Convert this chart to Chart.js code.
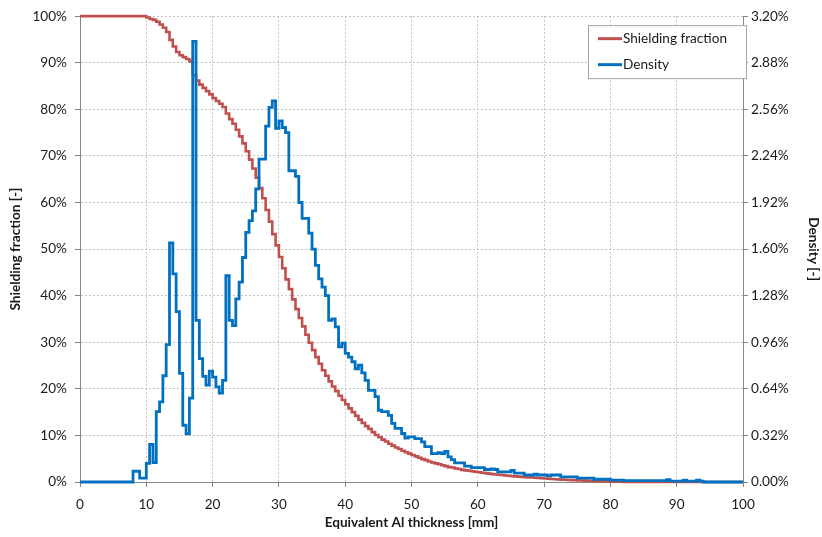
<!DOCTYPE html>
<html>
<head>
<meta charset="utf-8">
<script src="https://cdn.jsdelivr.net/npm/chart.js@4.4.0/dist/chart.umd.min.js"></script>
<style>
  html, body { margin: 0; padding: 0; background: #fff; }
  #wrap { width: 822px; height: 537px; position: relative; }
</style>
</head>
<body>
<div id="wrap"><canvas id="shieldChart"></canvas></div>
<script>
// ---------------- data : 0.5 mm bins, 0 -> 100 mm ----------------

var binStart = 0;
var binWidth = 0.5;

var xTicks = [0, 10, 20, 30, 40, 50, 60, 70, 80, 90, 100];

// shielding fraction [%] per bin (one row = 5 mm)
var shielding = [
	100, 100, 100, 100, 100, 100, 100, 100, 100, 100,
	100, 100, 100, 100, 100, 100, 100, 100, 100, 100,
	99.7, 99.4, 99.2, 98.8, 98.2, 97.5, 96.6, 94.9, 93.5, 92.3,
	91.6, 91.2, 90.8, 90.3, 87.3, 86.2, 85.3, 84.6, 83.9, 83.2,
	82.4, 81.8, 81.2, 80.5, 79.1, 77.9, 76.9, 75.6, 74.2, 72.7,
	71.0, 69.2, 67.3, 65.3, 63.1, 60.9, 58.4, 55.9, 53.2, 50.8,
	48.3, 45.9, 43.5, 41.4, 39.2, 37.1, 35.2, 33.4, 31.6, 29.9,
	28.3, 26.8, 25.4, 24.0, 22.8, 21.6, 20.5, 19.5, 18.5, 17.6,
	16.7, 15.8, 15.0, 14.2, 13.4, 12.7, 12.0, 11.4, 10.7, 10.1,
	9.6, 9.1, 8.7, 8.2, 7.8, 7.4, 7.1, 6.7, 6.4, 6.1,
	5.8, 5.5, 5.2, 4.9, 4.7, 4.4, 4.2, 4.0, 3.8, 3.6,
	3.4, 3.2, 3.1, 2.9, 2.8, 2.6, 2.5, 2.4, 2.3, 2.2,
	2.1, 2.0, 1.9, 1.8, 1.7, 1.6, 1.55, 1.5, 1.4, 1.35,
	1.25, 1.2, 1.15, 1.1, 1.05, 1.0, 0.95, 0.9, 0.85, 0.8,
	0.75, 0.7, 0.65, 0.6, 0.55, 0.5, 0.47, 0.44, 0.41, 0.38,
	0.35, 0.32, 0.29, 0.26, 0.23, 0.2, 0.18, 0.16, 0.14, 0.12,
	0.1, 0.08, 0.06, 0.04, 0.02, 0, 0, 0, 0, 0,
	0, 0, 0, 0, 0, 0, 0, 0, 0, 0,
	0, 0, 0, 0, 0, 0, 0, 0, 0, 0,
	0, 0, 0, 0, 0, 0, 0, 0, 0, 0
];

// density [%] per bin (one row = 5 mm)
var density = [
	0, 0, 0, 0, 0, 0, 0, 0, 0, 0,
	0, 0, 0, 0, 0, 0, 0.074, 0.074, 0.026, 0.026,
	0.128, 0.259, 0.134, 0.483, 0.550, 0.730, 0.944, 1.642, 1.430, 1.171,
	0.746, 0.390, 0.330, 0.576, 3.027, 1.110, 0.848, 0.726, 0.666, 0.762,
	0.720, 0.653, 0.611, 0.698, 1.418, 1.110, 1.075, 1.258, 1.373, 1.542,
	1.715, 1.795, 1.862, 2.013, 2.218, 2.218, 2.445, 2.573, 2.618, 2.429,
	2.480, 2.435, 2.400, 2.138, 2.138, 2.099, 1.920, 1.811, 1.811, 1.709,
	1.600, 1.488, 1.395, 1.338, 1.280, 1.110, 1.120, 1.066, 0.928, 0.954,
	0.883, 0.858, 0.826, 0.778, 0.803, 0.749, 0.698, 0.630, 0.630, 0.586,
	0.493, 0.483, 0.483, 0.458, 0.403, 0.368, 0.368, 0.333, 0.301, 0.310,
	0.310, 0.298, 0.298, 0.275, 0.243, 0.243, 0.195, 0.195, 0.202, 0.195,
	0.211, 0.173, 0.154, 0.131, 0.131, 0.131, 0.109, 0.109, 0.099, 0.099,
	0.099, 0.099, 0.086, 0.086, 0.090, 0.086, 0.070, 0.070, 0.070, 0.070,
	0.080, 0.061, 0.061, 0.061, 0.048, 0.048, 0.048, 0.054, 0.048, 0.048,
	0.048, 0.042, 0.048, 0.048, 0.048, 0.035, 0.035, 0.035, 0.035, 0.035,
	0.026, 0.026, 0.026, 0.026, 0.026, 0.019, 0.019, 0.019, 0.019, 0.019,
	0.013, 0.013, 0.013, 0.013, 0.010, 0.010, 0.010, 0.010, 0.010, 0.010,
	0.010, 0.010, 0.010, 0.010, 0.010, 0.010, 0.010, 0.016, 0.006, 0.006,
	0.006, 0.006, 0.013, 0.006, 0.006, 0.006, 0.013, 0.006, 0, 0,
	0, 0, 0, 0, 0, 0, 0, 0, 0, 0
];

// ---------------- helpers ----------------

// stepped series: one point at each bin start + closing point at the last edge
function toSteps(values){
	var pts = values.map(function(v, i){
		return { x: binStart + i * binWidth, y: v };
	});
	pts.push({ x: binStart + values.length * binWidth, y: values[values.length - 1] });
	return pts;
}

var FONT = 'Lato, "Open Sans", sans-serif';
var TXT = '#1a1a1a';
var AXIS = '#868686';
var GRID = '#c4c4c4';

// legend box drawn inside the plot, top right
var boxLegend = {
	id: 'boxLegend',
	afterDraw: function(chart){
		var ctx = chart.ctx;
		var area = chart.chartArea;
		var x = area.right - 155, y = area.top + 9, w = 158, h = 53;
		ctx.save();
		ctx.fillStyle = '#fff';
		ctx.fillRect(x, y, w, h);
		ctx.strokeStyle = '#a6a6a6';
		ctx.lineWidth = 1;
		ctx.strokeRect(x + 0.5, y + 0.5, w, h);
		ctx.font = '13.6px ' + FONT;
		ctx.textBaseline = 'middle';
		chart.data.datasets.forEach(function(ds, i){
			var ly = y + 13.5 + i * 26;
			ctx.strokeStyle = ds.borderColor;
			ctx.lineWidth = 3;
			ctx.beginPath();
			ctx.moveTo(x + 10, ly);
			ctx.lineTo(x + 34, ly);
			ctx.stroke();
			ctx.fillStyle = TXT;
			ctx.fillText(ds.label, x + 35, ly);
		});
		ctx.restore();
	}
};

// ---------------- chart ----------------

var ctx = document.getElementById('shieldChart').getContext('2d');
var chart = new Chart(ctx, {
	type: 'line',
	data: {
		datasets: [
			{
				label: 'Shielding fraction',
				data: toSteps(shielding),
				yAxisID: 'y',
				borderColor: '#C0504D',
				borderWidth: 2.6,
				stepped: true,
				pointRadius: 0,
				fill: false,
				clip: 4,
				order: 2
			},
			{
				label: 'Density',
				data: toSteps(density),
				yAxisID: 'y1',
				borderColor: '#0070C0',
				borderWidth: 2.8,
				stepped: true,
				pointRadius: 0,
				fill: false,
				clip: 4,
				order: 1
			}
		]
	},
	options: {
		responsive: true,
		maintainAspectRatio: false,
		animation: false,
		layout: { padding: { top: 15, left: 0, right: 0, bottom: 0 } },
		plugins: {
			legend: { display: false },
			tooltip: { enabled: false }
		},
		scales: {
			x: {
				type: 'linear',
				min: 0,
				max: 100,
				afterBuildTicks: function(scale){
					scale.ticks = xTicks.map(function(v){ return { value: v }; });
				},
				afterFit: function(scale){ scale.height = 55; },
				grid: { color: GRID, tickColor: AXIS, tickLength: 5, tickBorderDash: [] },
				border: { color: AXIS, width: 1, dash: [2, 2] },
				ticks: { color: TXT, font: { family: FONT, size: 13.6 }, padding: 9, maxRotation: 0 },
				title: {
					display: true,
					text: 'Equivalent Al thickness [mm]',
					color: TXT,
					font: { family: FONT, size: 13.6, weight: 'bold' },
					padding: { top: 2, bottom: 6 }
				}
			},
			y: {
				position: 'left',
				min: 0,
				max: 100,
				ticks: {
					stepSize: 10,
					color: TXT,
					font: { family: FONT, size: 13.6 },
					padding: 8,
					callback: function(v){ return v + '%'; }
				},
				afterFit: function(scale){ scale.width = 80; },
				grid: { color: GRID, tickColor: AXIS, tickLength: 5, tickBorderDash: [] },
				border: { color: AXIS, width: 1, dash: [2, 2] },
				title: {
					display: true,
					text: 'Shielding fraction [-]',
					color: TXT,
					font: { family: FONT, size: 13.6, weight: 'bold' },
					padding: { top: 7, bottom: 0 }
				}
			},
			y1: {
				position: 'right',
				min: 0,
				max: 3.2,
				ticks: {
					count: 11,
					color: TXT,
					font: { family: FONT, size: 13.6 },
					padding: 3,
					callback: function(v){ return v.toFixed(2) + '%'; }
				},
				afterFit: function(scale){ scale.width = 79; },
				grid: { drawOnChartArea: false, tickColor: AXIS, tickLength: 5 },
				border: { color: AXIS, width: 1 },
				title: {
					display: true,
					text: 'Density [-]',
					color: TXT,
					font: { family: FONT, size: 13.6, weight: 'bold' },
					padding: { top: 0, bottom: 3 }
				}
			}
		}
	},
	plugins: [boxLegend]
});
</script>
</body>
</html>
